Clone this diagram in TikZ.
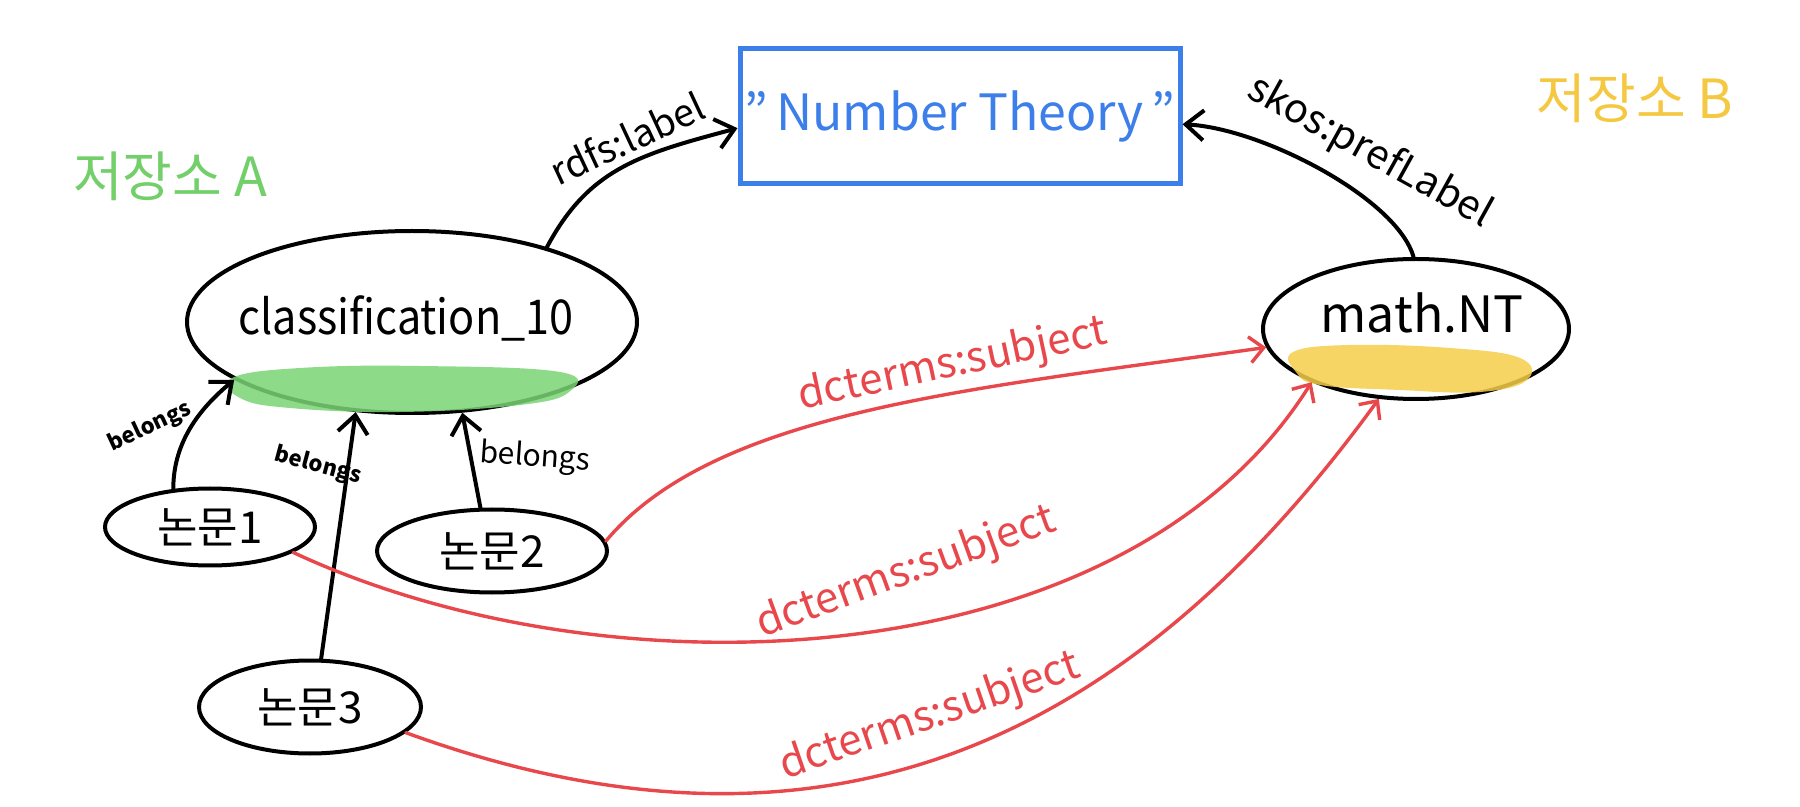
\documentclass[tikz,border=0pt]{standalone}
\usepackage{fontspec}
\setmainfont{Noto Sans CJK KR}
\usetikzlibrary{shapes.geometric,arrows.meta,calc}
\definecolor{myblue}{RGB}{61,127,234}
\definecolor{myred}{RGB}{232,71,76}
\definecolor{mygreen}{RGB}{114,207,106}
\definecolor{myyellow}{RGB}{245,200,66}
\definecolor{hlgreen}{RGB}{122,212,117}
\definecolor{hlyellow}{RGB}{245,206,74}
\begin{document}
\begin{tikzpicture}[x=0.5pt,y=-0.5pt,
  ell/.style={ellipse, draw, line width=2pt, inner sep=0pt},
  bedge/.style={line width=2pt, line cap=round, -{Straight Barb[length=9pt,width=15pt]}},
  redge/.style={draw=myred, line width=1.7pt, line cap=round, -{Straight Barb[length=7pt,width=13pt]}},
  fs/.style={font=\fontsize{#1}{#1}\selectfont},
  lbl/.style={inner sep=0pt},
]
\fill[white] (0,0) rectangle (1800,807);
\useasboundingbox (0,0) rectangle (1800,807);

% nodes
\node[draw=myblue, line width=2.5pt, minimum width=220pt, minimum height=67.5pt, inner sep=0pt,
      text=myblue, fs=25] (rect) at (960,116.5) {"\,Number Theory\,"};
\node[ell, minimum width=225pt, minimum height=91pt] (cls) at (412,322) {};
\node[lbl, fs=24] (clsT) at (406,318) {\scalebox{0.9}[1]{classification\_10}};
\node[ell, minimum width=153pt, minimum height=70pt] (math) at (1416,329) {};
\node[lbl, fs=25] (mathT) at (1422,313) {math.NT};
\node[ell, minimum width=105pt, minimum height=38.5pt, fs=22] (p1) at (210,527) {논문1};
\node[ell, minimum width=115pt, minimum height=41.5pt, fs=22] (p2) at (492,551) {논문2};
\node[ell, minimum width=111pt, minimum height=46.5pt, fs=22] (p3) at (310,707) {논문3};

\node[lbl, text=mygreen, fs=27] (repA) at (170,176) {저장소 A};
\node[lbl, text=myyellow, fs=27] (repB) at (1635,98) {저장소 B};

% highlights
\fill[hlgreen, opacity=.85] plot[smooth cycle, tension=0.7] coordinates
  {(232,378) (300,368) (420,366) (560,372) (569,392) (520,405) (400,412) (290,408) (240,398)};
\fill[hlyellow, opacity=.85] plot[smooth cycle, tension=0.7] coordinates
  {(1293,352) (1350,345) (1450,348) (1520,358) (1527,380) (1480,392) (1400,390) (1320,385) (1296,372)};

% black connectors
\draw[bedge] (cls.29) .. controls +(42,-79) and +(-97,26) .. (rect.183.5);
\draw[bedge] (math.92) .. controls +(-16,-58) and +(80,4) .. (rect.-2);
\draw[bedge] (p1.134) .. controls +(0,-50) and +(-31,26) .. (cls.198);
\draw[bedge] (p3.77) -- (cls.238);
\draw[bedge] (p2.105) -- (cls.-61);

% red connectors
\draw[redge] (p2.5) .. controls +(109,-130) and +(-297,42) .. (math.187);
\draw[redge] (p1.-17) .. controls +(317,148) and +(-186,297) .. (math.207);
\draw[redge] (p3.-15) .. controls +(423,154) and +(-247,340) .. (math.242);

% labels
\node[lbl, fs=19, rotate=25] (lrdfs) at (627,138) {rdfs:label};
\node[lbl, fs=20, rotate=-29] (lskos) at (1370,152) {skos:prefLabel};
\node[lbl, rotate=25, font=\bfseries\fontsize{11}{11}\selectfont] (lb1) at (150,427) {belongs};
\node[lbl, rotate=-15, font=\bfseries\fontsize{11}{11}\selectfont] (lb3) at (318,466) {belongs};
\node[lbl, rotate=-4, font=\fontsize{15}{15}\selectfont] (lb2) at (535,458) {belongs};
\node[lbl, text=myred, fs=21, rotate=12] (ldc1) at (953,365) {dcterms:subject};
\node[lbl, text=myred, fs=21, rotate=20] (ldc2) at (906,573) {dcterms:subject};
\node[lbl, text=myred, fs=21, rotate=19] (ldc3) at (930,717) {dcterms:subject};
\end{tikzpicture}
\end{document}
